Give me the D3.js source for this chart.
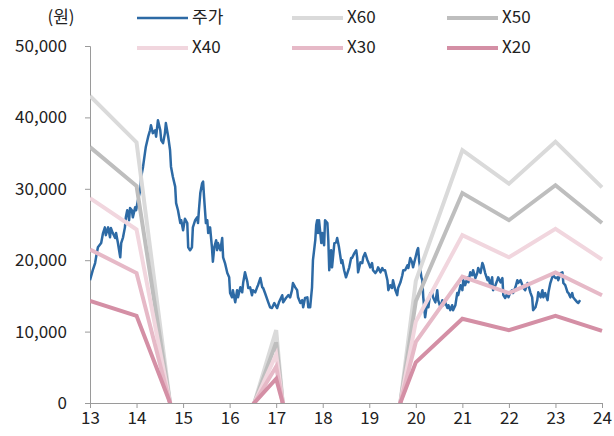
<!DOCTYPE html>
<html>
<head>
<meta charset="utf-8">
<script src="https://cdn.jsdelivr.net/npm/d3@7"></script>
<style>
  body { margin: 0; background: #fff; }
  text { font-family: "Noto Sans CJK KR", "Noto Sans", sans-serif; fill: #222; }
</style>
</head>
<body>
<div id="chart"></div>
<script>
// band years (annual points) and P/E-style multiple bands
const years = [13, 14, 15, 16, 17, 18, 19, 20, 21, 22, 23, 24];
const x60 = [43000, 36500, -14200, -11500, 10200, -62400, -34200, 17100, 35400, 30700, 36600, 30200];
const x50 = [35850, 30400, -11850, -9600, 8500, -52000, -28500, 14250, 29400, 25600, 30500, 25200];
const x40 = [28700, 24300, -9500, -7700, 6800, -41600, -22800, 11400, 23500, 20400, 24400, 20100];
const x30 = [21500, 18200, -7100, -5800, 5100, -31200, -17100, 8550, 17700, 15400, 18300, 15100];
const x20 = [14300, 12200, -4700, -3800, 3400, -20800, -11400, 5700, 11800, 10200, 12200, 10100];

// price (원), time in decimal years
const priceT = [13.00,13.06,13.11,13.13,13.17,13.24,13.28,13.32,13.34,13.39,13.43,13.45,13.49,13.54,13.56,13.60,13.65,13.67,13.71,13.75,13.77,13.80,13.84,13.86,13.90,13.92,13.97,13.99,
  14.03,14.08,14.10,14.14,14.18,14.20,14.25,14.29,14.31,14.35,14.40,14.42,14.46,14.51,14.53,14.57,14.61,14.63,14.68,14.72,14.74,14.78,14.83,14.85,14.89,14.94,14.96,
  15.00,15.04,15.09,15.11,15.15,15.19,15.21,15.26,15.30,15.32,15.34,15.37,15.41,15.43,15.45,15.49,15.52,15.54,15.58,15.62,15.64,15.67,15.71,15.73,15.75,15.80,15.84,15.86,15.90,15.95,15.99,
  16.01,16.05,16.07,16.12,16.16,16.18,16.23,16.27,16.29,16.33,16.38,16.40,16.44,16.48,16.50,16.55,16.59,16.61,16.66,16.70,16.72,16.76,16.83,16.87,16.91,16.96,
  17.02,17.06,17.13,17.15,17.21,17.26,17.30,17.34,17.36,17.41,17.45,17.47,17.52,17.56,17.58,17.62,17.67,17.69,17.73,17.77,17.79,17.84,17.86,17.88,17.90,17.92,17.97,17.99,
  18.03,18.05,18.10,18.12,18.14,18.18,18.20,18.25,18.29,18.31,18.35,18.40,18.42,18.46,18.50,18.53,18.57,18.61,18.63,18.68,18.72,18.74,18.76,18.81,18.85,18.87,18.91,18.96,18.98,
  19.02,19.06,19.08,19.13,19.17,19.19,19.24,19.28,19.30,19.34,19.39,19.41,19.45,19.49,19.51,19.56,19.60,19.62,19.67,19.71,19.73,19.77,19.82,19.84,19.88,19.92,19.94,19.99,
  20.03,20.05,20.07,20.12,20.14,20.16,20.20,20.25,20.27,20.31,20.35,20.37,20.42,20.46,20.48,20.53,20.57,20.59,20.63,20.68,20.70,20.74,20.78,20.80,20.85,20.89,20.91,20.96,
  21.00,21.02,21.06,21.11,21.13,21.17,21.21,21.23,21.28,21.32,21.34,21.39,21.43,21.45,21.49,21.54,21.56,21.60,21.64,21.66,21.71,21.75,21.77,21.82,21.86,21.88,21.92,21.97,21.99,
  22.03,22.07,22.09,22.14,22.18,22.20,22.25,22.29,22.31,22.35,22.40,22.42,22.46,22.50,22.52,22.57,22.61,22.63,22.68,22.72,22.74,22.78,22.83,22.85,22.89,22.93,22.95,
  23.00,23.04,23.06,23.11,23.15,23.17,23.21,23.26,23.28,23.32,23.36,23.38,23.43,23.47,23.49,23.53];
const price = [17200,18600,19600,20400,21800,22400,23800,24600,23500,24600,23200,24500,23800,23100,23800,22400,20400,22400,23200,24600,26000,27000,25600,27300,27000,26000,27400,27000,
  28400,29800,31700,33100,35000,35900,37300,38200,38900,37800,38200,37300,39600,38200,36800,36400,37800,39200,37300,35400,33100,31700,30300,28000,27000,25200,25600,
  24200,25800,25200,21800,21400,21800,24600,25600,26000,25200,27000,29400,30800,31000,28900,25200,25600,23800,24600,21800,19800,21800,22800,21400,22400,21400,23100,20400,19600,18200,17600,
  15400,14800,15800,14100,15800,14800,16200,15500,16800,18300,17000,16100,16200,15100,15800,15500,16200,16500,17500,16200,16100,15400,14100,13400,13300,14000,
  13300,14100,15100,14100,14700,15100,14800,15800,16800,16200,15800,14800,14000,14400,13400,14700,14800,13400,13400,16200,20000,22800,24900,25600,23800,25600,22400,23800,
  22100,25600,25200,22800,18600,21400,19000,22400,22500,23100,21800,19600,20000,18600,17600,18200,19000,20300,20300,21000,21400,20400,18300,19700,19600,20400,21000,20000,19700,
  19000,19600,18600,18200,18600,19000,18300,18900,18600,18600,17200,15800,16500,16100,17200,15800,15100,16100,16900,17900,18600,18600,19300,18900,20300,19700,19000,20300,
  21400,21700,20000,17600,17200,14800,12000,14400,13400,15400,15500,14800,14100,15800,14400,13400,14400,13700,14100,13300,13700,13000,13700,13000,13700,15400,15100,16500,
  15800,17200,16500,17600,16900,18300,17900,18600,17500,18200,18900,18200,19600,19300,18200,17200,17600,16500,17600,15800,16500,17200,17600,16900,17500,15100,14700,15400,14800,
  15500,15800,15400,16200,17200,16800,17200,16500,16100,15800,16800,16500,15500,14800,13000,13400,14400,15500,14800,15800,14800,15400,14400,15500,16800,17600,17900,
  17500,17600,17200,18200,18300,16800,16500,15500,15400,14800,15400,14800,14400,14100,14000,14400];

const yTicks = [0, 10000, 20000, 30000, 40000, 50000];
const xTicks = [13, 14, 15, 16, 17, 18, 19, 20, 21, 22, 23, 24];

const series = [
  { name: '주가', color: '#2d6aa5', width: 2.5 },
  { name: 'X60', values: x60, color: '#dadada', width: 4 },
  { name: 'X50', values: x50, color: '#bebebe', width: 4 },
  { name: 'X40', values: x40, color: '#f1d6de', width: 4 },
  { name: 'X30', values: x30, color: '#e6b9c7', width: 4 },
  { name: 'X20', values: x20, color: '#d48fa5', width: 4 }
];

const W = 614, H = 436;
const margin = { left: 90, right: 12, top: 46, bottom: 33 };
const width = W - margin.left - margin.right;
const height = H - margin.top - margin.bottom;

const svg = d3.select('#chart').append('svg')
  .attr('width', W).attr('height', H);

const g = svg.append('g')
  .attr('transform', `translate(${margin.left}, ${margin.top})`);

const x = d3.scaleLinear().domain([13, 24]).range([0, width]);
const y = d3.scaleLinear().domain([0, 50000]).range([height, 0]);

g.append('clipPath').attr('id', 'plot-clip')
  .append('rect').attr('x', 0).attr('y', -5).attr('width', width + 5).attr('height', height + 5);

// axes
const yAxis = g.append('g')
  .call(d3.axisLeft(y).tickValues(yTicks).tickSize(5).tickPadding(18).tickFormat(d3.format(',')));
const xAxis = g.append('g')
  .attr('transform', `translate(0, ${height})`)
  .call(d3.axisBottom(x).tickValues(xTicks).tickSize(5).tickPadding(4).tickFormat(d3.format('d')));

[xAxis, yAxis].forEach(a => {
  a.select('.domain').attr('stroke', '#9a9a9a');
  a.selectAll('.tick line').attr('stroke', '#9a9a9a');
  a.selectAll('.tick text').style('font-size', '17px').attr('fill', '#222');
});

// lines
const plot = g.append('g').attr('clip-path', 'url(#plot-clip)');

plot.append('path')
  .datum(priceT.map((t, i) => [t, price[i]]))
  .attr('d', d3.line().x(d => x(d[0])).y(d => y(d[1])))
  .attr('fill', 'none')
  .attr('stroke', series[0].color)
  .attr('stroke-width', series[0].width)
  .attr('stroke-linejoin', 'round');

series.slice(1).forEach(s => {
  plot.append('path')
    .datum(years.map((yr, i) => [yr, s.values[i]]))
    .attr('d', d3.line().x(d => x(d[0])).y(d => y(d[1])))
    .attr('fill', 'none')
    .attr('stroke', s.color)
    .attr('stroke-width', s.width)
    .attr('stroke-linejoin', 'miter');
});

// unit label
svg.append('text')
  .attr('x', 61).attr('y', 18)
  .attr('text-anchor', 'middle').attr('dominant-baseline', 'middle')
  .style('font-size', '17px')
  .text('(원)');

// handmade legend, 3 per row
series.forEach((s, i) => {
  const col = i % 3, row = Math.floor(i / 3);
  const lx = 137 + col * 155;
  const ly = 18 + row * 30;
  svg.append('line')
    .attr('x1', lx).attr('x2', lx + 51)
    .attr('y1', ly).attr('y2', ly)
    .attr('stroke', s.color)
    .attr('stroke-width', s.width);
  svg.append('text')
    .attr('x', lx + 55).attr('y', ly)
    .attr('dominant-baseline', 'middle')
    .style('font-size', '17px')
    .text(s.name);
});
</script>
</body>
</html>
